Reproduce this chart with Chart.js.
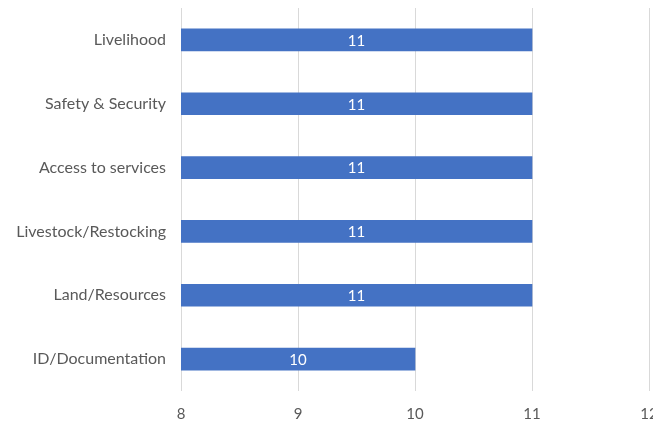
<!DOCTYPE html>
<html>
<head>
<meta charset="utf-8">
<script src="https://cdn.jsdelivr.net/npm/chart.js@4/dist/chart.umd.min.js"></script>
<style>
  html, body { margin: 0; padding: 0; background: #fff; overflow: hidden; }
  /* wider than the window so the "12" tick gets cut at the edge like the original */
  #wrap { width: 700px; height: 425px; position: relative; }
</style>
</head>
<body>
<div id="wrap"><canvas id="bar-chart"></canvas></div>
<script>
var categories = ["Livelihood", "Safety & Security", "Access to services", "Livestock/Restocking", "Land/Resources", "ID/Documentation"];
var counts = [11, 11, 11, 11, 11, 10];
var xMin = 8;
var xMax = 12;

// white value labels in the middle of each bar
var barLabels = {
  id: 'barLabels',
  afterDraw: function(chart) {
    var ctx = chart.ctx;
    var meta = chart.getDatasetMeta(0);
    var xs = chart.scales.x;
    ctx.save();
    ctx.fillStyle = '#ffffff';
    ctx.font = '15px Lato, sans-serif';
    ctx.textAlign = 'center';
    ctx.textBaseline = 'middle';
    meta.data.forEach(function(bar, i) {
      var cx = (xs.getPixelForValue(counts[i]) + xs.getPixelForValue(xMin)) / 2;
      ctx.fillText(String(counts[i]), cx, bar.y + 1);
    });
    ctx.restore();
  }
};

new Chart(document.getElementById("bar-chart"), {
  type: 'bar',
  data: {
    labels: categories,
    datasets: [{
      data: counts,
      backgroundColor: '#4472C4',
      borderWidth: 0,
      barThickness: 22
    }]
  },
  options: {
    indexAxis: 'y',
    responsive: true,
    maintainAspectRatio: false,
    animation: false,
    layout: { padding: { left: 0, right: 51, top: 8, bottom: 0 } },
    plugins: {
      legend: { display: false },
      tooltip: { enabled: false }
    },
    scales: {
      x: {
        min: xMin,
        max: xMax,
        ticks: {
          stepSize: 1,
          color: '#595959',
          font: { family: 'Lato, "Open Sans", sans-serif', size: 15 },
          padding: 14
        },
        grid: { color: '#d9d9d9', drawTicks: false },
        border: { display: false },
        afterFit: function(scale) { scale.height = 34; }
      },
      y: {
        ticks: {
          color: '#595959',
          font: { family: 'Lato, "Open Sans", sans-serif', size: 16 },
          padding: 15
        },
        grid: { display: false, drawTicks: false },
        border: { display: false },
        afterFit: function(scale) {
          scale.width = 181;
          scale.paddingTop = 0;
          scale.paddingBottom = 0;
        }
      }
    }
  },
  plugins: [barLabels]
});
</script>
</body>
</html>
